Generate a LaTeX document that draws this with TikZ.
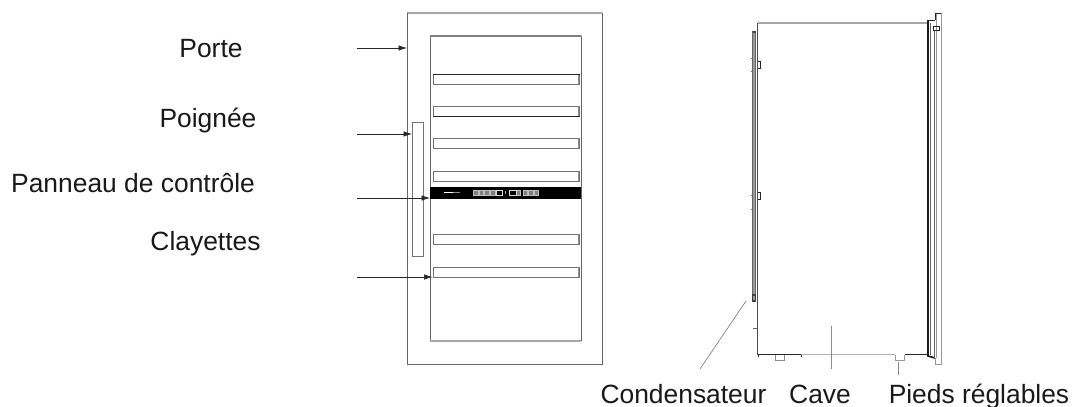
\documentclass[tikz,border=0pt]{standalone}
\usepackage{fontspec}
\setmainfont{Liberation Sans}
\usetikzlibrary{arrows.meta}
\tikzset{
  x=1pt,y=-1pt,
  lbl/.style={font=\fontsize{26.4}{28}\selectfont,text=black!90,inner sep=0pt,anchor=base},
  lblw/.style={lbl,anchor=base west},
  body/.style={draw=black!60,line width=1pt},
  lightl/.style={draw=black!35,line width=1.1pt},
  shelf/.style={draw=black!55,line width=0.9pt,fill=white},
  arr/.style={draw=black!85,line width=0.7pt,-{Latex[length=8.5pt,width=5.5pt]}},
  lead/.style={draw=black!55,line width=0.6pt},
  panelkey/.style={draw=white!75!black,line width=0.4pt,fill=black!50,minimum size=4.6pt,inner sep=0pt},
  panelbox/.style={draw=white!85!black,line width=0.5pt,fill=black,minimum width=6.5pt,minimum height=5pt,inner sep=0pt},
  rail/.style={draw=black!60,line width=1.1pt,fill=black!40},
  dark/.style={draw=black!85,line width=0.9pt}
}
\begin{document}
\begin{tikzpicture}
\useasboundingbox[fill=white] (0,0) rectangle (1072,407);
% door front
\draw[lightl] (407,13) -- (602,13);
\draw[body] (407,13) -- (407,364) -- (602,364) -- (602,13);
\draw[body] (581,341) -- (581,36);
\draw[body] (430,341) -- (430,36);
\draw[lightl,draw=black!50] (430,36) -- (581,36);
\draw[lightl] (430,341) -- (581,341);
% shelves
\foreach \n/\a/\b in {a/74/84,b/106/115.5,c/138/148,d/170.5/180.5,e/234/243.5,f/267/277}{
  \node[shelf,anchor=north west,minimum width=146.5pt,minimum height={(\b-\a)*1pt},inner sep=0pt] (shelf\n) at (432.5,\a) {};
  \draw[draw=black!45,line width=1pt] (578,\a) -- (578,\b);
}
\draw[dark] (shelfa.north west) -- (shelfa.north east);
\draw[dark] (shelfb.south west) -- (shelfb.south east);
% control panel
\node[fill=black,draw=none,anchor=north west,minimum width=151pt,minimum height=12pt,inner sep=0pt] (panel) at (430,187) {};
\draw[white,line width=1.1pt] (443.5,192.6) -- (453,192.6);
\draw[white!55!black,line width=0.7pt] (453,192.6) -- (460,192.6);
\foreach \x in {475.5,481,486.5,492.5,518,525,530.5,536}{
  \node[panelkey] at (\x,192.6) {};
}
\node[panelbox] at (499,192.6) {};
\node[panelbox] at (512.5,192.6) {};
\draw[white!70!black,line width=0.8pt] (505.5,190.8) -- (505.5,194.4);
% handle
\node[draw=black!55,line width=0.9pt,fill=white,anchor=north west,minimum width=10.5pt,minimum height=134.5pt,inner sep=0pt] (handle) at (412,121.5) {};
% labels
\node[lbl] (porte) at (211,57.3) {Porte};
\node[lbl] (poignee) at (208,127.3) {Poignée};
\node[lblw] (panneau) at (11,192.7) {Panneau de contrôle};
\node[lbl] (clayettes) at (205.5,250) {Clayettes};
\node[lbl] (cond) at (683.5,403) {Condensateur};
\node[lbl] (cave) at (820,403) {Cave};
\node[lbl] (pieds) at (979,403) {Pieds réglables};
% arrows
\coordinate (s1) at (357,48);  \coordinate (t1) at (407,48);
\coordinate (s2) at (357,134); \coordinate (t2) at (412,134);
\coordinate (s3) at (357,198); \coordinate (t3) at (430,198);
\coordinate (s4) at (357,277); \coordinate (t4) at (432.5,277);
\draw[arr] (s1) -- (t1);
\draw[arr] (s2) -- (t2);
\draw[arr] (s3) -- (t3);
\draw[arr] (s4) -- (t4);
% side view
\draw[lightl,line width=1.6pt] (758,23) -- (927,23);
\draw[draw=black!70,line width=0.8pt] (757.5,23) -- (757.5,355);
\draw[rail] (752.5,32) rectangle (755.5,301);
\draw[draw=black!75,line width=1.4pt] (752.5,32) -- (755.5,32);
\draw[draw=black!75,line width=1.4pt] (752.5,295) rectangle (755.5,301);
\foreach \y in {58,71,195,209}{ \draw[draw=black!60,line width=1pt] (751,\y) -- (753,\y); }
\draw[dark] (757.5,61) -- (760,61) -- (760,68) -- (757.5,68);
\draw[dark] (757.5,192) -- (760,192) -- (760,199) -- (757.5,199);
\draw[draw=black!60,line width=0.6pt] (753,328) -- (757,328);
% bottom edge
\draw[dark] (758,354.7) -- (801,354.7);
\draw[dark] (758,354.7) -- (758,357);
\draw[dark] (801,354.7) -- (801,357);
\draw[draw=black!30,line width=0.8pt] (801,354.7) -- (895,354.7);
\draw[dark] (905,354.7) -- (927,354.7);
\draw[draw=black!45,line width=0.6pt] (775,355) -- (775,360) -- (784,360) -- (784,355);
\draw[draw=black!40,line width=0.6pt] (895,355) -- (895,360) -- (904,360) -- (904,355);
% door side
\draw[draw=black!90,line width=1.6pt] (928,20) -- (928,356) -- (935,358);
\draw[draw=black!60,line width=1.2pt] (930.5,23) -- (930.5,355);
\draw[draw=black!60,line width=1.5pt] (934.5,30) -- (934.5,358);
\draw[draw=black!40,line width=0.8pt] (935,358) -- (935,364) -- (941.5,364) -- (941.5,13) -- (936.5,13) -- (936.5,358);
\draw[draw=black!85,line width=0.9pt] (927,20) -- (935,20);
\draw[draw=black!85,line width=0.9pt] (935,20) -- (935,13) -- (941,13);
\draw[draw=black!85,line width=1pt] (933,26) rectangle (939,30);
% leader lines
\coordinate (c1) at (746,301); \coordinate (c2) at (700,369);
\draw[lead] (c1) -- (c2);
\coordinate (v1) at (831,326); \coordinate (v2) at (831,369);
\draw[lead,draw=black!45] (v1) -- (v2);
\coordinate (p1) at (898.7,362); \coordinate (p2) at (898.7,375);
\draw[lead,draw=black!45] (p1) -- (p2);
\end{tikzpicture}
\end{document}
